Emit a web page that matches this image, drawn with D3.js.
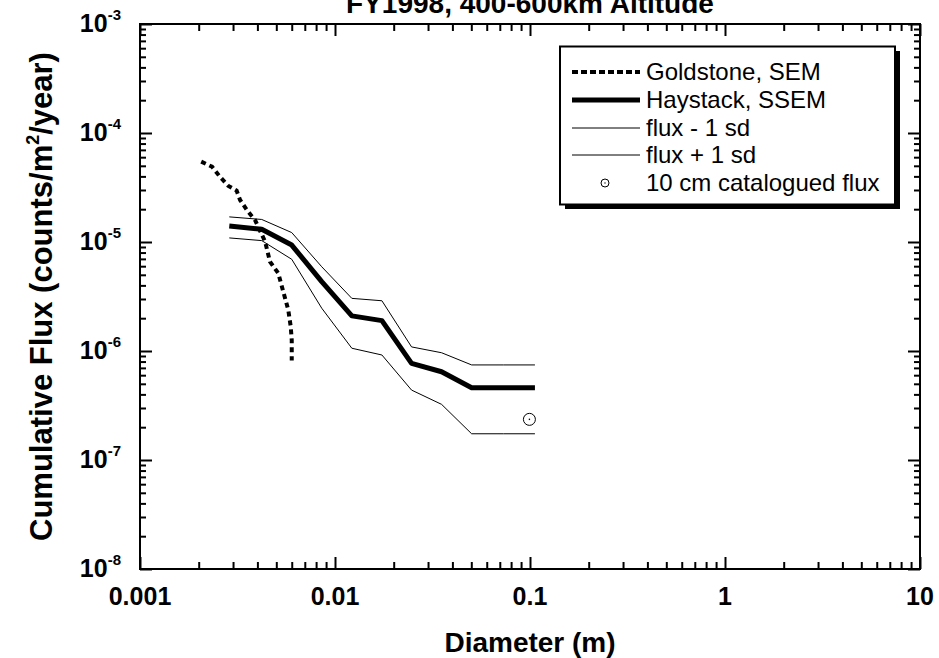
<!DOCTYPE html>
<html>
<head>
<meta charset="utf-8">
<script src="https://cdn.jsdelivr.net/npm/d3@7"></script>
<style>
  body { margin: 0; background: #fff; }
  svg { font-family: "Liberation Sans", Arial, sans-serif; }
  .axis .domain { display: none; }
  .axis line { stroke: #000; stroke-width: 2; }
  .lbl { font-weight: bold; font-size: 25px; fill: #000; }
  .ttl { font-weight: bold; font-size: 28px; fill: #000; }
  .leg { font-size: 24px; fill: #000; }
</style>
</head>
<body>
<div id="chart"></div>
<script>
// Goldstone, SEM (dashed)
const goldD = [0.00206, 0.00234, 0.00257, 0.00284, 0.00313, 0.00326, 0.00355, 0.00389, 0.00438, 0.00464, 0.00512, 0.00543, 0.00576, 0.00593, 0.0060, 0.0060];
const goldF = [5.46e-5, 4.91e-5, 3.97e-5, 3.27e-5, 2.96e-5, 2.43e-5, 1.94e-5, 1.59e-5, 1.01e-5, 6.6e-6, 5.16e-6, 3.5e-6, 2.38e-6, 1.67e-6, 1.26e-6, 8.2e-7];

// Haystack, SSEM and +/- 1 sd
const hayD = [0.00287, 0.00421, 0.0060, 0.00855, 0.0122, 0.0174, 0.0247, 0.0352, 0.0502, 0.073, 0.106];
const hayF = [1.40e-5, 1.31e-5, 9.37e-6, 4.33e-6, 2.1e-6, 1.9e-6, 7.7e-7, 6.45e-7, 4.6e-7, 4.6e-7, 4.6e-7];
const hayHi = [1.70e-5, 1.61e-5, 1.22e-5, 5.93e-6, 3.04e-6, 2.89e-6, 1.09e-6, 9.64e-7, 7.45e-7, 7.45e-7, 7.45e-7];
const hayLo = [1.09e-5, 1.03e-5, 6.94e-6, 2.47e-6, 1.06e-6, 9.19e-7, 4.38e-7, 3.24e-7, 1.74e-7, 1.74e-7, 1.74e-7];

// 10 cm catalogued flux
const catD = [0.0993];
const catF = [2.36e-7];

const xMajor = [0.001, 0.01, 0.1, 1, 10];
const xLabels = ['0.001', '0.01', '0.1', '1', '10'];
const yExp = [-3, -4, -5, -6, -7, -8];

const W = 939, H = 658;
const m = { left: 140, right: 920, top: 24, bottom: 569 };

const svg = d3.select('#chart').append('svg')
    .attr('width', W)
    .attr('height', H);

const x = d3.scaleLog().domain([0.001, 10]).range([m.left, m.right]);
const y = d3.scaleLog().domain([1e-8, 1e-3]).range([m.bottom, m.top]);

// minor tick values
let xMinor = [];
for (let e = -3; e < 1; e++) for (let k = 2; k <= 9; k++) xMinor.push(k * Math.pow(10, e));
let yMinor = [];
for (let e = -8; e < -3; e++) for (let k = 2; k <= 9; k++) yMinor.push(k * Math.pow(10, e));
const yMajor = yExp.map(e => Math.pow(10, e));

// ticks, all inward
function ticks(axisFn, scale, vals, size, tr) {
    svg.append('g')
        .attr('class', 'axis')
        .attr('transform', tr)
        .call(axisFn(scale).tickValues(vals).tickSize(size).tickFormat(''));
}
ticks(d3.axisBottom, x, xMajor, -12, `translate(0,${m.bottom})`);
ticks(d3.axisBottom, x, xMinor, -7, `translate(0,${m.bottom})`);
ticks(d3.axisTop, x, xMajor, -12, `translate(0,${m.top})`);
ticks(d3.axisTop, x, xMinor, -7, `translate(0,${m.top})`);
ticks(d3.axisLeft, y, yMajor, -12, `translate(${m.left},0)`);
ticks(d3.axisLeft, y, yMinor, -6, `translate(${m.left},0)`);
ticks(d3.axisRight, y, yMajor, -12, `translate(${m.right},0)`);
ticks(d3.axisRight, y, yMinor, -6, `translate(${m.right},0)`);

// frame
svg.append('rect')
    .attr('x', m.left).attr('y', m.top)
    .attr('width', m.right - m.left).attr('height', m.bottom - m.top)
    .attr('fill', 'none').attr('stroke', '#000').attr('stroke-width', 2);

// x labels
svg.selectAll('.xl').data(xMajor).join('text')
    .attr('class', 'lbl')
    .attr('x', d => x(d))
    .attr('y', m.bottom + 36)
    .attr('text-anchor', 'middle')
    .text((d, i) => xLabels[i]);

// y labels with superscript
const yl = svg.selectAll('.yl').data(yExp).join('text')
    .attr('class', 'lbl')
    .attr('x', 121)
    .attr('y', d => y(Math.pow(10, d)) + 8)
    .attr('text-anchor', 'end');
yl.append('tspan').text('10');
yl.append('tspan').attr('dy', -12).style('font-size', '15px').text(d => d);

// titles
svg.append('text').attr('class', 'ttl')
    .attr('x', (m.left + m.right) / 2).attr('y', 13)
    .attr('text-anchor', 'middle')
    .text('FY1998, 400-600km Altitude');

svg.append('text').attr('class', 'ttl')
    .attr('x', (m.left + m.right) / 2).attr('y', 652)
    .attr('text-anchor', 'middle')
    .text('Diameter (m)');

const yt = svg.append('text').attr('class', 'ttl')
    .style('font-size', '31px')
    .attr('transform', `translate(52,${(m.top + m.bottom) / 2}) rotate(-90)`)
    .attr('text-anchor', 'middle');
yt.append('tspan').text('Cumulative Flux (counts/m');
yt.append('tspan').attr('dy', -13).style('font-size', '18px').text('2');
yt.append('tspan').attr('dy', 13).text('/year)');

// series
const line = d3.line().x(d => x(d[0])).y(d => y(d[1]));
const plot = svg.append('g');

plot.append('path')
    .attr('d', line(d3.zip(hayD, hayHi)))
    .attr('fill', 'none').attr('stroke', '#000').attr('stroke-width', 1);
plot.append('path')
    .attr('d', line(d3.zip(hayD, hayLo)))
    .attr('fill', 'none').attr('stroke', '#000').attr('stroke-width', 1);
plot.append('path')
    .attr('d', line(d3.zip(hayD, hayF)))
    .attr('fill', 'none').attr('stroke', '#000').attr('stroke-width', 5)
    .attr('stroke-linejoin', 'round');
plot.append('path')
    .attr('d', line(d3.zip(goldD, goldF)))
    .attr('fill', 'none').attr('stroke', '#000').attr('stroke-width', 4)
    .attr('stroke-dasharray', '5,4');

plot.selectAll('.cat').data(d3.zip(catD, catF)).join('g')
    .attr('transform', d => `translate(${x(d[0])},${y(d[1])})`)
    .each(function () {
        d3.select(this).append('circle').attr('r', 6).attr('fill', 'none').attr('stroke', '#000').attr('stroke-width', 1);
        d3.select(this).append('circle').attr('r', 0.8).attr('fill', '#000');
    });

// legend
const lg = svg.append('g');
lg.append('rect').attr('x', 565).attr('y', 51).attr('width', 335).attr('height', 158).attr('fill', '#000');
lg.append('rect').attr('x', 560).attr('y', 46.5).attr('width', 335).attr('height', 158)
    .attr('fill', '#fff').attr('stroke', '#000').attr('stroke-width', 2);

const legItems = [
    { label: 'Goldstone, SEM', w: 4, dash: '6,3', y: 72 },
    { label: 'Haystack, SSEM', w: 5, dash: null, y: 100 },
    { label: 'flux - 1 sd', w: 1, dash: null, y: 128 },
    { label: 'flux + 1 sd', w: 1, dash: null, y: 155 },
    { label: '10 cm catalogued flux', w: 0, dash: null, y: 183 }
];
legItems.forEach(it => {
    if (it.w > 0) {
        lg.append('line').attr('x1', 572).attr('x2', 640).attr('y1', it.y).attr('y2', it.y)
            .attr('stroke', '#000').attr('stroke-width', it.w)
            .attr('stroke-dasharray', it.dash);
    } else {
        lg.append('circle').attr('cx', 605).attr('cy', it.y).attr('r', 4).attr('fill', 'none').attr('stroke', '#000');
        lg.append('circle').attr('cx', 605).attr('cy', it.y).attr('r', 0.7).attr('fill', '#000');
    }
    lg.append('text').attr('class', 'leg').attr('x', 646).attr('y', it.y + 8).text(it.label);
});
</script>
</body>
</html>
